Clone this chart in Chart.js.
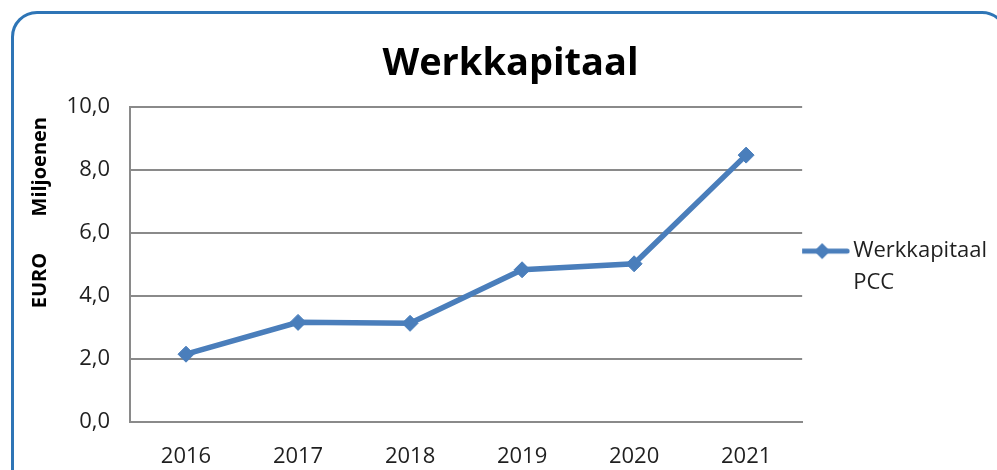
<!DOCTYPE html>
<html>
<head>
<meta charset="utf-8">
<title>Werkkapitaal</title>
<script src="https://cdn.jsdelivr.net/npm/chart.js@4.4.0/dist/chart.umd.min.js"></script>
<style>
    html, body { margin: 0; padding: 0; background: #fff; }
    #wrap { position: relative; width: 997px; height: 470px; overflow: hidden; }
    #frame {
        position: absolute; left: 11px; top: 11px; width: 997px; height: 490px;
        border: 3px solid #2e75b6; border-radius: 26px; box-sizing: border-box;
    }
    canvas { position: absolute; left: 0; top: 0; }
</style>
</head>
<body>
<div id="wrap">
    <div id="frame"></div>
    <canvas id="chart" width="997" height="470"></canvas>
</div>
<script>
// Werkkapitaal PCC, in miljoenen euro
const years = ['2016', '2017', '2018', '2019', '2020', '2021'];
const werkkapitaal = [2.14, 3.15, 3.12, 4.82, 5.01, 8.46];
const seriesLabel = ['Werkkapitaal', 'PCC'];
const yTicks = [0, 2, 4, 6, 8, 10];

const fontFamily = '"Open Sans", "Liberation Sans", sans-serif';
const lineBlue = '#4a7ebb';
const gridGray = '#8a8a8a';
const textColor = '#1f1f1f';

// legend symbol: short line with a diamond in the middle
function legendIcon() {
    const c = document.createElement('canvas');
    c.width = 56;
    c.height = 20;
    const g = c.getContext('2d');
    g.strokeStyle = lineBlue;
    g.lineWidth = 5;
    g.lineCap = 'round';
    g.beginPath();
    g.moveTo(3, 10);
    g.lineTo(53, 10);
    g.stroke();
    g.fillStyle = lineBlue;
    g.beginPath();
    g.moveTo(28, 2);
    g.lineTo(36, 10);
    g.lineTo(28, 18);
    g.lineTo(20, 10);
    g.closePath();
    g.fill();
    return c;
}

const icon = legendIcon();

new Chart(document.getElementById('chart'), {
    type: 'line',
    data: {
        labels: years,
        datasets: [{
            label: seriesLabel.join(' '),
            data: werkkapitaal,
            borderColor: lineBlue,
            backgroundColor: lineBlue,
            borderWidth: 5.5,
            tension: 0,
            pointStyle: 'rectRot',
            pointRadius: 8,
            pointBorderWidth: 1,
            pointBackgroundColor: lineBlue,
            pointBorderColor: lineBlue
        }]
    },
    options: {
        responsive: false,
        animation: false,
        layout: { padding: { left: 24, right: 0, top: 0, bottom: -14 } },
        plugins: {
            title: {
                display: true,
                text: 'Werkkapitaal',
                color: '#000',
                font: { family: fontFamily, size: 38, weight: 'bold' },
                padding: { top: 41, bottom: 20 }
            },
            legend: {
                position: 'right',
                maxWidth: 195,
                // empty title only pushes the legend item down a bit
                title: { display: true, text: ' ', font: { size: 10 }, padding: { top: 24, bottom: 24 } },
                labels: {
                    usePointStyle: true,
                    pointStyleWidth: 40,
                    color: textColor,
                    padding: 0,
                    font: { family: fontFamily, size: 22, lineHeight: 1.45 },
                    generateLabels: chart => {
                        const items = Chart.defaults.plugins.legend.labels.generateLabels(chart);
                        items.forEach(it => {
                            it.text = seriesLabel;
                            it.pointStyle = icon;
                        });
                        return items;
                    }
                }
            },
            tooltip: { enabled: false }
        },
        scales: {
            x: {
                offset: true,
                grid: { display: false },
                border: { display: true, color: gridGray, width: 2 },
                ticks: { color: textColor, padding: 14, font: { family: fontFamily, size: 22 } }
            },
            y: {
                min: 0,
                max: 10,
                afterBuildTicks: s => { s.ticks = yTicks.map(v => ({ value: v })); },
                afterFit: s => { s.width = 106; },
                grid: { color: gridGray, lineWidth: 2, drawTicks: false },
                border: { display: true, color: gridGray, width: 2 },
                ticks: {
                    color: textColor,
                    padding: 20,
                    font: { family: fontFamily, size: 22 },
                    callback: v => v.toFixed(1).replace('.', ',')
                },
                title: {
                    display: true,
                    text: 'EURO       Miljoenen  ',
                    align: 'end',
                    color: '#000',
                    padding: { top: 4, bottom: 0 },
                    font: { family: fontFamily, size: 20, weight: 'bold' }
                }
            }
        }
    }
});
</script>
</body>
</html>
